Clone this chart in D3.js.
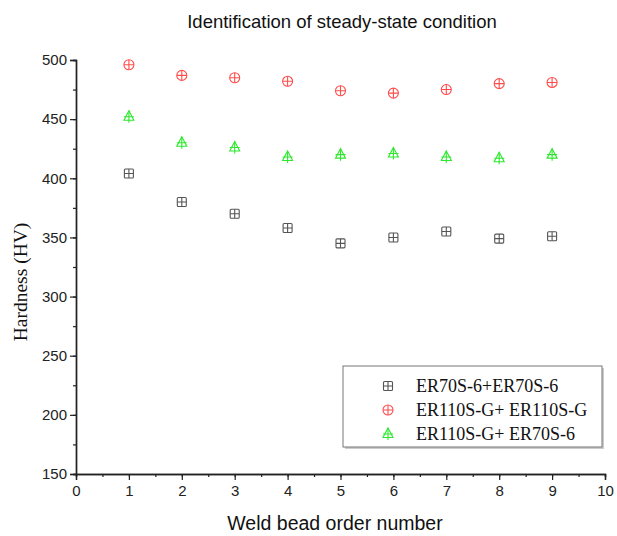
<!DOCTYPE html>
<html>
<head>
<meta charset="utf-8">
<script src="https://cdn.jsdelivr.net/npm/d3@7"></script>
<style>
  body { margin: 0; background: #fff; }
</style>
</head>
<body>
<div id="wrapper"></div>
<script>
// data
const beadOrder = [1, 2, 3, 4, 5, 6, 7, 8, 9];
const er70er70 = [404, 380, 370, 358, 345, 350, 355, 349, 351];
const er110er110 = [496, 487, 485, 482, 474, 472, 475, 480, 481];
const er110er70 = [452, 430, 426, 418, 420, 421, 418, 417, 420];
const seriesNames = ["ER70S-6+ER70S-6", "ER110S-G+ ER110S-G", "ER110S-G+ ER70S-6"];
const xTicks = [0, 1, 2, 3, 4, 5, 6, 7, 8, 9, 10];
const yTicks = [150, 200, 250, 300, 350, 400, 450, 500];

const series = [
  { name: seriesNames[0], values: er70er70, shape: "square", color: "#555" },
  { name: seriesNames[1], values: er110er110, shape: "circle", color: "#ff4d4d" },
  { name: seriesNames[2], values: er110er70, shape: "triangle", color: "#2ee82e" },
];

const dimensions = {
  width: 617,
  height: 536,
  margin: { top: 60, right: 12, bottom: 62, left: 76 },
};
dimensions.boundsWidth = dimensions.width - dimensions.margin.left - dimensions.margin.right;
dimensions.boundsHeight = dimensions.height - dimensions.margin.top - dimensions.margin.bottom;

const svg = d3.select("#wrapper").append("svg")
  .attr("width", dimensions.width)
  .attr("height", dimensions.height);

const bounds = svg.append("g")
  .attr("transform", `translate(${dimensions.margin.left},${dimensions.margin.top})`);

const xScale = d3.scaleLinear().domain([0, 10]).range([0, 529]);
const yScale = d3.scaleLinear().domain([150, 500]).range([dimensions.boundsHeight, 0]);

// minor ticks
const yAxisMinor = d3.axisLeft(yScale).tickValues(d3.range(150, 501, 25)).tickSize(3).tickFormat("");
const xAxisMinor = d3.axisBottom(xScale).tickValues(d3.range(0, 10.01, 0.5)).tickSize(3).tickFormat("");

const yAxis = bounds.append("g").call(d3.axisLeft(yScale).tickValues(yTicks).tickSize(6).tickPadding(3));
bounds.append("g").call(yAxisMinor);
const xAxis = bounds.append("g")
  .attr("transform", `translate(0,${dimensions.boundsHeight})`)
  .call(d3.axisBottom(xScale).tickValues(xTicks).tickSize(6).tickPadding(5));
bounds.append("g").attr("transform", `translate(0,${dimensions.boundsHeight})`).call(xAxisMinor);

bounds.selectAll(".domain").attr("stroke", "#222").attr("stroke-width", 1.4);
bounds.selectAll(".tick line").attr("stroke", "#222").attr("stroke-width", 1.2);
bounds.selectAll(".tick text")
  .attr("font-family", "'Liberation Sans', Arial, sans-serif")
  .attr("font-size", 15)
  .attr("fill", "#222");

// marker drawing
function drawMarker(g, shape, color, cx, cy) {
  const m = g.append("g").attr("transform", `translate(${cx},${cy})`)
    .attr("fill", "none").attr("stroke", color).attr("stroke-width", 1.1);
  if (shape === "square") {
    m.append("rect").attr("x", -4.5).attr("y", -4.5).attr("width", 9).attr("height", 9).attr("rx", 1);
    m.append("path").attr("d", "M-4.5,0H4.5M0,-4.5V4.5");
  } else if (shape === "circle") {
    m.append("circle").attr("r", 5);
    m.append("path").attr("d", "M-5,0H5M0,-5V5");
  } else {
    m.append("path").attr("d", "M0,-6L5,3.5H-5Z");
    m.append("path").attr("d", "M-5,0H5M0,-6V6");
  }
}

series.forEach(s => {
  const g = bounds.append("g");
  s.values.forEach((v, i) => drawMarker(g, s.shape, s.color, xScale(beadOrder[i]), yScale(v)));
});

// title
svg.append("text")
  .attr("x", 342).attr("y", 28)
  .attr("text-anchor", "middle")
  .attr("font-family", "'Liberation Sans', Arial, sans-serif")
  .attr("font-size", 18.5)
  .attr("fill", "#111")
  .text("Identification of steady-state condition");

// axis titles
svg.append("text")
  .attr("x", 335).attr("y", 530)
  .attr("text-anchor", "middle")
  .attr("font-family", "'Liberation Sans', Arial, sans-serif")
  .attr("font-size", 19.5)
  .attr("fill", "#111")
  .text("Weld bead order number");

svg.append("text")
  .attr("transform", `translate(27,282) rotate(-90)`)
  .attr("text-anchor", "middle")
  .attr("font-family", "'Liberation Serif', 'Times New Roman', serif")
  .attr("font-size", 19.5)
  .attr("fill", "#111")
  .text("Hardness (HV)");

// legend
const legend = svg.append("g").attr("transform", "translate(343,366)");
legend.append("rect").attr("x", 2).attr("y", 2).attr("width", 259).attr("height", 81).attr("fill", "#ccc");
legend.append("rect").attr("width", 259).attr("height", 81).attr("fill", "#fff").attr("stroke", "#777").attr("stroke-width", 1);
series.forEach((s, i) => {
  const y = 20 + i * 24;
  drawMarker(legend, s.shape, s.color, 45, y);
  legend.append("text")
    .attr("x", 73).attr("y", y + 6)
    .attr("font-family", "'Liberation Serif', 'Times New Roman', serif")
    .attr("font-size", 18)
    .attr("fill", "#111")
    .text(s.name);
});
</script>
</body>
</html>
